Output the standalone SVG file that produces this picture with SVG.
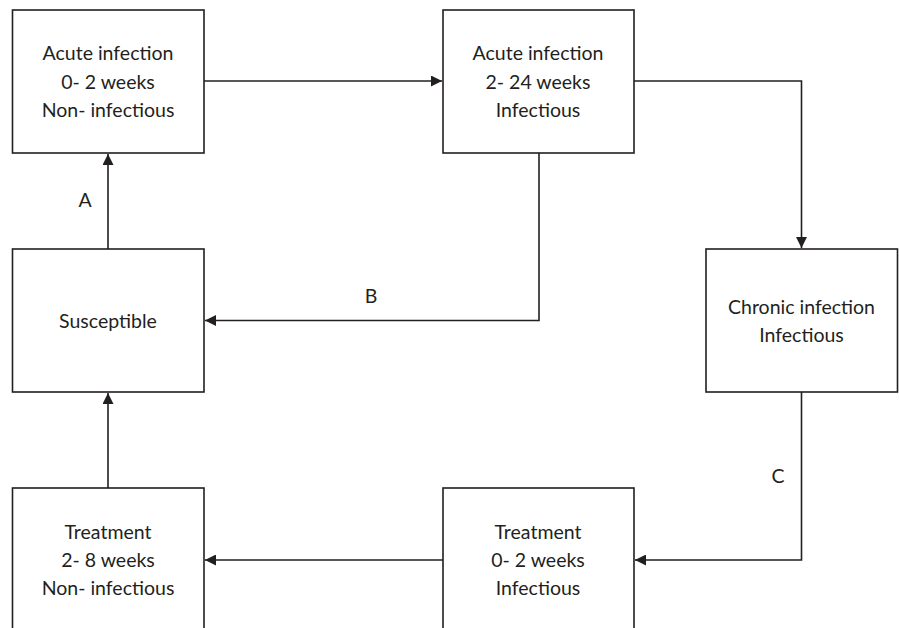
<svg xmlns="http://www.w3.org/2000/svg" width="899" height="628" viewBox="0 0 899 628">
<style>
.box{fill:#fff;stroke:#231f20;stroke-width:1.6}
.t{font-family:Lato,"Open Sans","Liberation Sans",sans-serif;font-size:19.5px;fill:#231f20;text-anchor:middle}
.c{fill:none;stroke:#231f20;stroke-width:1.6}
</style>
<defs>
<marker id="ah" viewBox="0 0 10 10" refX="10" refY="5" markerWidth="11" markerHeight="11" markerUnits="userSpaceOnUse" orient="auto">
<path d="M0,0 L10,5 L0,10 z" fill="#231f20"/>
</marker>
</defs>
<rect width="899" height="628" fill="#fff"/>
<g id="connectors">
<path class="c" d="M204,81 H442" marker-end="url(#ah)"/>
<path class="c" d="M634,81 H801.5 V248" marker-end="url(#ah)"/>
<path class="c" d="M539,153 V320.5 H205" marker-end="url(#ah)"/>
<path class="c" d="M108,249 V154" marker-end="url(#ah)"/>
<path class="c" d="M108,488 V393" marker-end="url(#ah)"/>
<path class="c" d="M801.5,392 V560 H635" marker-end="url(#ah)"/>
<path class="c" d="M443,560 H205" marker-end="url(#ah)"/>
<text class="t" x="85" y="207">A</text>
<text class="t" x="371" y="303">B</text>
<text class="t" x="778" y="483">C</text>
</g>
<g id="acute1">
<rect class="box" x="12.5" y="10" width="191.5" height="143"/>
<text class="t" x="108" y="60">Acute infection</text>
<text class="t" x="108" y="89">0- 2 weeks</text>
<text class="t" x="108" y="117">Non- infectious</text>
</g>
<g id="acute2">
<rect class="box" x="443" y="10" width="191" height="143"/>
<text class="t" x="538" y="60">Acute infection</text>
<text class="t" x="538" y="89">2- 24 weeks</text>
<text class="t" x="538" y="117">Infectious</text>
</g>
<g id="susceptible">
<rect class="box" x="12.5" y="249" width="191.5" height="143"/>
<text class="t" x="108" y="328">Susceptible</text>
</g>
<g id="chronic">
<rect class="box" x="706" y="249" width="191.5" height="143"/>
<text class="t" x="801.5" y="314">Chronic infection</text>
<text class="t" x="801.5" y="342">Infectious</text>
</g>
<g id="treatment2">
<rect class="box" x="12.5" y="488" width="191.5" height="150"/>
<text class="t" x="108" y="539">Treatment</text>
<text class="t" x="108" y="567">2- 8 weeks</text>
<text class="t" x="108" y="595">Non- infectious</text>
</g>
<g id="treatment1">
<rect class="box" x="443" y="488" width="191" height="150"/>
<text class="t" x="538" y="539">Treatment</text>
<text class="t" x="538" y="567">0- 2 weeks</text>
<text class="t" x="538" y="595">Infectious</text>
</g>
</svg>
